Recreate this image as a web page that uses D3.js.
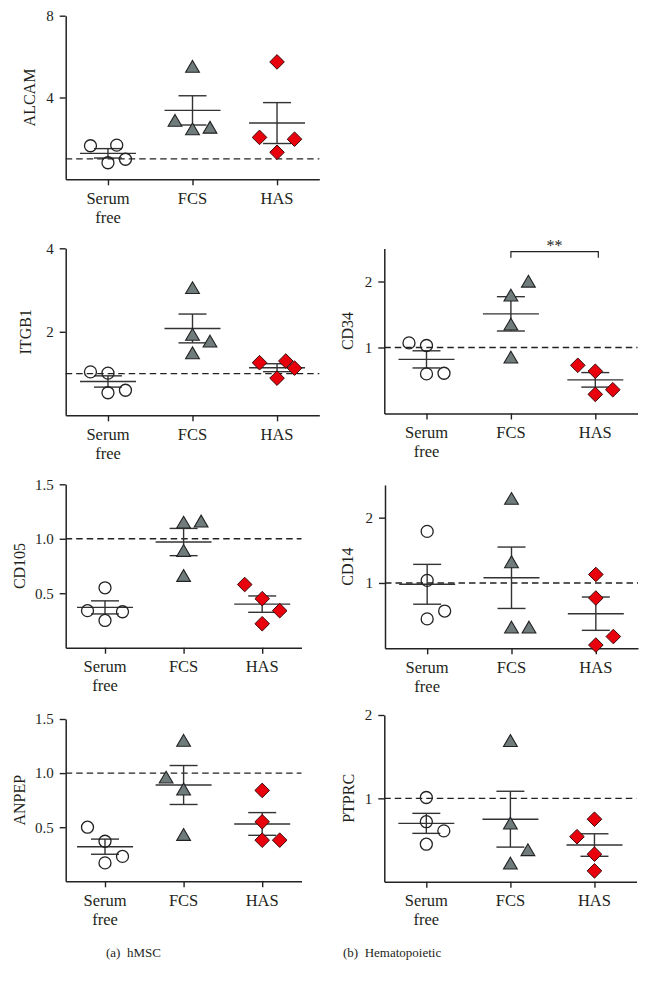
<!DOCTYPE html>
<html><head><meta charset="utf-8">
<script src="https://cdn.jsdelivr.net/npm/d3@7"></script>
<style>
body{margin:0;background:#fff}
svg{display:block}
text{font-family:"Liberation Serif","Times New Roman",serif;fill:#231f20}
</style>
</head><body><svg id="c" width="649" height="986"></svg>
<script>
// ---------- data ----------
const groups = ["Serum free", "FCS", "HAS"];
const groupLabelLines = [["Serum", "free"], ["FCS"], ["HAS"]];
const markers = ["circle", "triangle", "diamond"];
const genes = ["ALCAM", "ITGB1", "CD34", "CD105", "CD14", "ANPEP", "PTPRC"];
const yMax = [8, 4, 2.5, 1.5, 2.5, 1.5, 2];
const yTicks = [[4, 8], [2, 4], [1, 2], [0.5, 1.0, 1.5], [1, 2], [0.5, 1.0, 1.5], [1, 2]];
const yTickFormats = ["d", "d", "d", ".1f", "d", ".1f", "d"];
const referenceLevel = 1;

const alcamValues = [[1.64, 1.67, 0.81, 0.98], [5.51, 2.87, 2.45, 2.53], [5.74, 2.05, 1.96, 1.32]];
const alcamMean = [1.27, 3.37, 2.75];
const alcamSEM = [0.23, 0.715, 1.0];
const alcamSlots = [[-1, 0.5, 0, 1], [0, -1, 0, 1], [0, -1, 1, 0]];

const itgb1Values = [[1.04, 1.01, 0.54, 0.60], [3.05, 1.93, 1.77, 1.49], [1.26, 1.30, 1.13, 0.89]];
const itgb1Mean = [0.81, 2.08, 1.14];
const itgb1SEM = [0.135, 0.345, 0.095];
const itgb1Slots = [[-1, 0, 0, 1], [0, 0, 1, 0], [-1, 0.5, 1, 0]];

const cd34Values = [[1.07, 1.03, 0.60, 0.61], [1.79, 2.0, 1.35, 0.85], [0.73, 0.64, 0.29, 0.36]];
const cd34Mean = [0.82, 1.51, 0.51];
const cd34SEM = [0.13, 0.26, 0.11];
const cd34Slots = [[-1, 0, 0, 1], [0, 1, 0, 0], [-1, 0, 0, 1]];
const cd34Significance = {from: "FCS", to: "HAS", label: "**"};

const cd105Values = [[0.55, 0.34, 0.33, 0.25], [1.15, 1.16, 0.89, 0.66], [0.58, 0.45, 0.34, 0.22]];
const cd105Mean = [0.37, 0.97, 0.40];
const cd105SEM = [0.06, 0.125, 0.075];
const cd105Slots = [[0, -1, 1, 0], [0, 1, 0, 0], [-1, 0, 1, 0]];

const cd14Values = [[1.79, 1.04, 0.57, 0.45], [2.29, 1.32, 0.32, 0.32], [1.13, 0.77, 0.18, 0.05]];
const cd14Mean = [0.98, 1.08, 0.53];
const cd14SEM = [0.305, 0.47, 0.255];
const cd14Slots = [[0, 0, 1, 0], [0, 0, 0, 1], [0, 0, 1, 0]];

const anpepValues = [[0.50, 0.37, 0.23, 0.17], [1.30, 0.96, 0.85, 0.43], [0.84, 0.55, 0.38, 0.38]];
const anpepMean = [0.32, 0.89, 0.53];
const anpepSEM = [0.07, 0.18, 0.105];
const anpepSlots = [[-1, 0, 1, 0], [0, -1, 0, 0], [0, 0, 0, 1]];

const ptprcValues = [[1.01, 0.72, 0.61, 0.45], [1.69, 0.70, 0.38, 0.22], [0.75, 0.54, 0.33, 0.13]];
const ptprcMean = [0.70, 0.75, 0.44];
const ptprcSEM = [0.12, 0.335, 0.135];
const ptprcSlots = [[0, 0, 1, 0], [0, 0, 1, 0], [0, -1, 0, 0]];

const captions = ["(a)\u2002hMSC", "(b)\u2002Hematopoietic"];

// ---------- layout (px) ----------
const frames = [
  {x0: 65.7, x1: 319.3, top: 15.7, bot: 179.3, labelX: 29},
  {x0: 65.7, x1: 319.3, top: 248.3, bot: 415.3, labelX: 25},
  {x0: 384.3, x1: 637.5, top: 248.5, bot: 413.5, labelX: 347},
  {x0: 65.7, x1: 301.5, top: 484.3, bot: 647.7, labelX: 19},
  {x0: 385, x1: 638, top: 485, bot: 648.3, labelX: 347},
  {x0: 65.7, x1: 301.5, top: 719, bot: 881.3, labelX: 19},
  {x0: 384.3, x1: 636.5, top: 715, bot: 881.7, labelX: 348}
];
const captionPos = [{x: 106, y: 957}, {x: 343, y: 957}];
const slotPx = 17.5;
const meanHalf = 28, capHalf = 14;
const lineColor = "#333", axisColor = "#222";

const panelData = [
  {values: alcamValues, mean: alcamMean, sem: alcamSEM, slots: alcamSlots},
  {values: itgb1Values, mean: itgb1Mean, sem: itgb1SEM, slots: itgb1Slots},
  {values: cd34Values, mean: cd34Mean, sem: cd34SEM, slots: cd34Slots, sig: cd34Significance},
  {values: cd105Values, mean: cd105Mean, sem: cd105SEM, slots: cd105Slots},
  {values: cd14Values, mean: cd14Mean, sem: cd14SEM, slots: cd14Slots},
  {values: anpepValues, mean: anpepMean, sem: anpepSEM, slots: anpepSlots},
  {values: ptprcValues, mean: ptprcMean, sem: ptprcSEM, slots: ptprcSlots}
];

const svg = d3.select("#c");

function markerPath(type) {
  if (type === "triangle") return "M0,-6.2L6.9,5.6L-6.9,5.6Z";
  if (type === "diamond") return "M0,-7.3L7.3,0L0,7.3L-7.3,0Z";
  return d3.symbol(d3.symbolCircle, Math.PI * 36)();
}
const markerStyle = {
  circle: {fill: "none", stroke: "#222", sw: 1.3},
  triangle: {fill: "#6f7c7b", stroke: "#222", sw: 1.1},
  diamond: {fill: "#e8000d", stroke: "#3a0a0a", sw: 1.0}
};

genes.forEach((gene, i) => {
  const f = frames[i], d = panelData[i];
  const g = svg.append("g");
  const y = d3.scaleLinear().domain([0, yMax[i]]).range([f.bot, f.top]);
  const x = d3.scalePoint().domain(groups).range([f.x0, f.x1]).padding(0.5);

  // reference dashed line
  g.append("line")
    .attr("x1", f.x0).attr("x2", f.x1)
    .attr("y1", y(referenceLevel)).attr("y2", y(referenceLevel))
    .attr("stroke", "#222").attr("stroke-width", 1.3)
    .attr("stroke-dasharray", "6.5,4");

  // axes
  const ya = g.append("g").attr("transform", `translate(${f.x0},0)`)
    .call(d3.axisLeft(y).tickValues(yTicks[i]).tickSize(6).tickSizeOuter(0)
      .tickPadding(6).tickFormat(d3.format(yTickFormats[i])));
  const xa = g.append("g").attr("transform", `translate(0,${f.bot})`)
    .call(d3.axisBottom(x).tickSize(6).tickSizeOuter(0).tickFormat(""));
  [ya, xa].forEach(a => {
    a.select(".domain").attr("stroke", axisColor).attr("stroke-width", 1.5);
    a.selectAll(".tick line").attr("stroke", axisColor).attr("stroke-width", 1.4);
    a.selectAll(".tick text").style("font-size", "15px").attr("fill", "#231f20")
      .style("font-family", '"Liberation Serif","Times New Roman",serif');
  });

  // x category labels
  groups.forEach((grp, k) => {
    const t = g.append("text").attr("text-anchor", "middle")
      .attr("x", x(grp)).attr("y", f.bot + 24.7).style("font-size", "16.5px");
    groupLabelLines[k].forEach((ln, j) => {
      t.append("tspan").attr("x", x(grp)).attr("dy", j === 0 ? 0 : 18.5).text(ln);
    });
  });

  // y label
  g.append("text")
    .attr("transform", `translate(${f.labelX + 5.5},${(f.top + f.bot) / 2}) rotate(-90)`)
    .attr("text-anchor", "middle").style("font-size", "16px").text(gene);

  // mean & SEM
  groups.forEach((grp, k) => {
    const cx = x(grp), m = d.mean[k], s = d.sem[k];
    const eg = g.append("g").attr("stroke", lineColor).attr("stroke-width", 1.4);
    eg.append("line").attr("x1", cx - meanHalf).attr("x2", cx + meanHalf).attr("y1", y(m)).attr("y2", y(m));
    eg.append("line").attr("x1", cx).attr("x2", cx).attr("y1", y(m + s)).attr("y2", y(m - s));
    eg.append("line").attr("x1", cx - capHalf).attr("x2", cx + capHalf).attr("y1", y(m + s)).attr("y2", y(m + s));
    eg.append("line").attr("x1", cx - capHalf).attr("x2", cx + capHalf).attr("y1", y(m - s)).attr("y2", y(m - s));
  });

  // points
  groups.forEach((grp, k) => {
    const type = markers[k], st = markerStyle[type];
    g.append("g").selectAll("path").data(d.values[k]).join("path")
      .attr("d", markerPath(type))
      .attr("transform", (v, j) => `translate(${x(grp) + d.slots[k][j] * slotPx},${y(v)})`)
      .attr("fill", st.fill).attr("stroke", st.stroke).attr("stroke-width", st.sw);
  });

  // significance bracket
  if (d.sig) {
    const xa1 = x(d.sig.from), xa2 = x(d.sig.to) + 3, yb = f.top + 3.2;
    g.append("path")
      .attr("d", `M${xa1},${yb + 6}V${yb}H${xa2}V${yb + 6}`)
      .attr("fill", "none").attr("stroke", "#222").attr("stroke-width", 1.2);
    g.append("text").attr("x", (xa1 + xa2) / 2).attr("y", yb - 1)
      .attr("text-anchor", "middle").style("font-size", "16px").text(d.sig.label);
  }
});

captions.forEach((c, i) => {
  svg.append("text").attr("x", captionPos[i].x).attr("y", captionPos[i].y)
    .style("font-size", "13px").text(c);
});
</script>
</body></html>
